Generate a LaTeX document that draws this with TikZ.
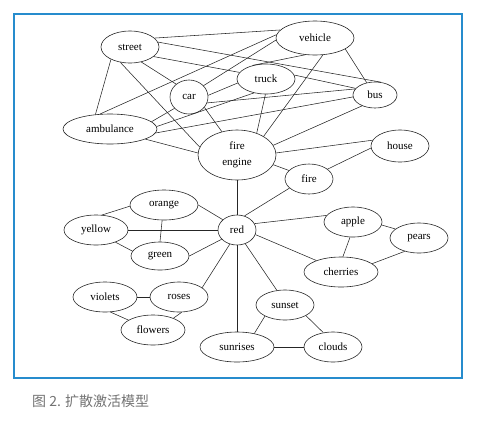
\documentclass[tikz,border=0pt]{standalone}
\usepackage{fontspec}
\setmainfont{Liberation Serif}
\newfontfamily\cjk{Noto Sans CJK SC}
\usetikzlibrary{shapes.geometric}
\definecolor{framebl}{RGB}{38,140,205}
\definecolor{capgray}{RGB}{115,115,115}
\tikzset{
  x=1pt, y=-1pt,
  concept/.style={ellipse, draw=black!85, line width=0.6pt, inner sep=0pt,
    font=\fontsize{11}{16}\selectfont, align=center},
  link/.style={draw=black!85, line width=0.55pt},
}
\newcommand{\cnode}[5]{\node[concept, minimum width=#4pt, minimum height=#5pt] (#1) at (#2,#3)}
\begin{document}
\begin{tikzpicture}
\useasboundingbox (0,0) rectangle (477,424);
\draw[framebl, line width=2pt] (14,14) rectangle (462,378);
% nodes
\cnode{street}{130}{47}{58}{32} {street};
\cnode{vehicle}{315}{38}{78}{34} {vehicle};
\cnode{truck}{266}{79}{58}{30} {truck};
\cnode{car}{189}{97}{38}{34} {car};
\cnode{bus}{375}{95}{44}{26} {bus};
\cnode{ambulance}{110}{129}{94}{30} {ambulance};
\cnode{fireengine}{237}{155}{78}{50} {fire\\engine};
\cnode{house}{400}{146}{58}{32} {house};
\cnode{fire}{309}{179}{48}{30} {fire};
\cnode{orange}{164}{205}{68}{30} {orange};
\cnode{yellow}{96}{230}{64}{30} {yellow};
\cnode{red}{237}{230}{38}{30} {red};
\cnode{green}{160}{256}{58}{28} {green};
\cnode{apple}{353}{222}{58}{30} {apple};
\cnode{pears}{419}{238}{58}{30} {pears};
\cnode{cherries}{341}{272}{74}{30} {cherries};
\cnode{violets}{105}{297}{64}{30} {violets};
\cnode{roses}{179}{297}{58}{30} {roses};
\cnode{flowers}{153}{330}{64}{30} {flowers};
\cnode{sunset}{285}{305}{58}{30} {sunset};
\cnode{sunrises}{237}{347}{74}{30} {sunrises};
\cnode{clouds}{333}{347}{58}{30} {clouds};
% edges (end points given as border angles)
\foreach \a/\aa/\b/\bb in {
  street/20/vehicle/167, street/10/bus/65, street/-22/truck/166, street/-53/car/135,
  street/-122/fireengine/168, street/-147/ambulance/135,
  vehicle/175/ambulance/124, vehicle/183/car/38, vehicle/-120/truck/135,
  vehicle/-65/fireengine/35, vehicle/-20/bus/124,
  truck/8/bus/161, truck/188/car/5, truck/-131/ambulance/3, truck/-92/fireengine/48,
  car/-18/bus/163, car/-142/ambulance/10, car/-34/fireengine/123,
  ambulance/-5/bus/185, ambulance/-16/fireengine/177, bus/-140/fireengine/15,
  fireengine/3/house/168, fireengine/-15/fire/157, fireengine/-90/red/90,
  house/184/fire/28, fire/-155/red/62,
  red/144/orange/0, red/180/yellow/0, red/-149/green/0, orange/-97/green/90,
  orange/182/yellow/68, yellow/-32/green/170,
  red/20/apple/166, red/-14/cherries/155, apple/-6/pears/159, apple/-101/cherries/83,
  pears/-137/cherries/15,
  red/-117/roses/22, red/-90/sunrises/90, red/-59/sunset/119,
  violets/0/roses/180, violets/-70/flowers/158, roses/-80/flowers/30,
  sunset/-151/sunrises/38, sunset/-27/clouds/124, sunrises/0/clouds/180}
  \draw[link] (\a.\aa) -- (\b.\bb);
\node[anchor=west, text=capgray, font=\cjk\fontsize{14}{16}\selectfont, inner sep=0pt] (caption) at (32,401) {图 2. 扩散激活模型};
\end{tikzpicture}
\end{document}
